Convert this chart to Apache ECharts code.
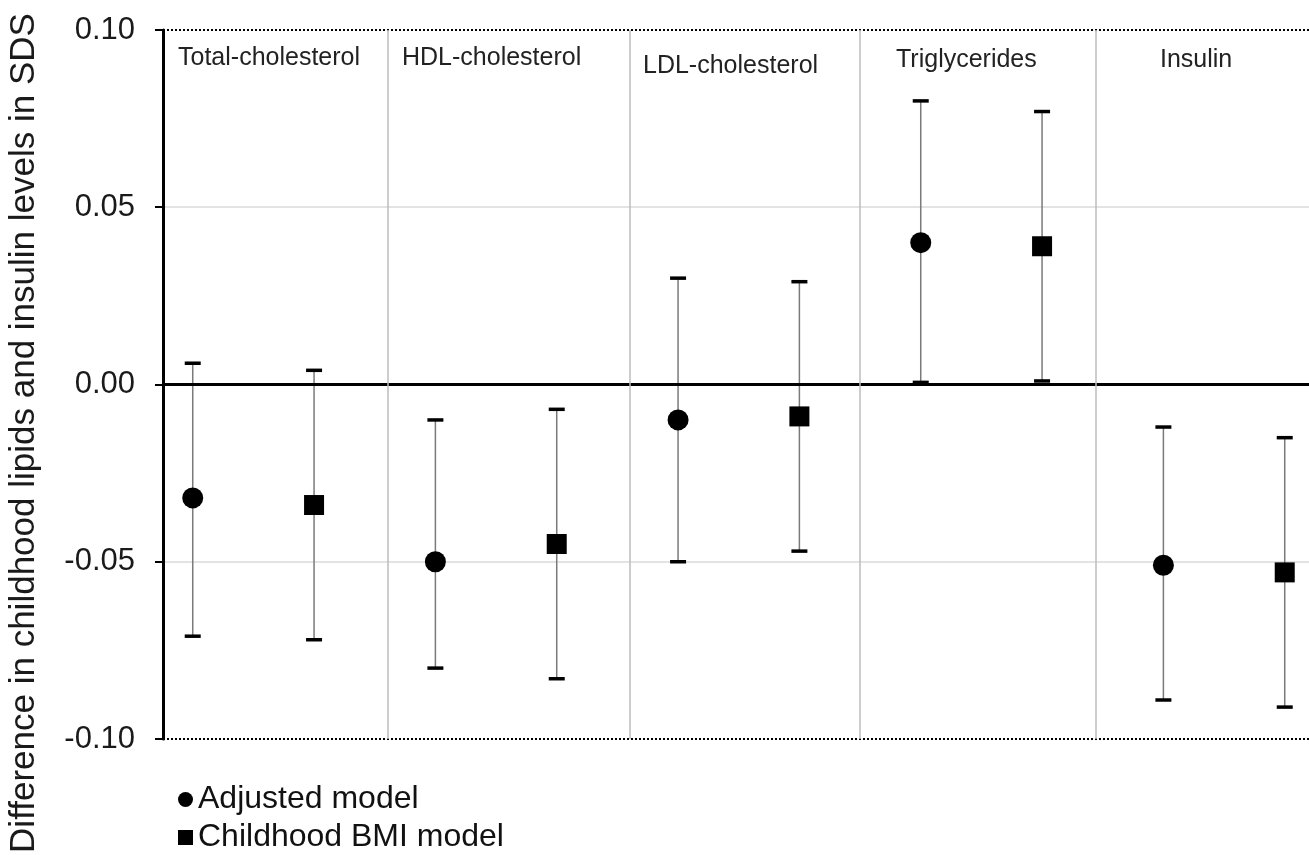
<!DOCTYPE html>
<html>
<head>
<meta charset="utf-8">
<script src="https://cdn.jsdelivr.net/npm/echarts@6/dist/echarts.min.js"></script>
<style>
html, body { margin: 0; padding: 0; background: #fff; }
#chart { width: 1309px; height: 855px; }
</style>
</head>
<body>
<div id="chart"></div>
<script>
var categories = ['Total-cholesterol', 'HDL-cholesterol', 'LDL-cholesterol', 'Triglycerides', 'Insulin'];
// x slot of each model within the panels
var adjustedX = [1, 3, 5, 7, 9];
var bmiX = [2, 4, 6, 8, 10];
// adjusted model: estimate and 95% CI
var adjusted = [-0.032, -0.050, -0.010, 0.040, -0.051];
var adjustedLow = [-0.071, -0.080, -0.050, 0.0006, -0.089];
var adjustedHigh = [0.006, -0.010, 0.030, 0.080, -0.012];
// childhood BMI model: estimate and 95% CI
var bmi = [-0.034, -0.045, -0.009, 0.039, -0.053];
var bmiLow = [-0.072, -0.083, -0.047, 0.001, -0.091];
var bmiHigh = [0.004, -0.007, 0.029, 0.077, -0.015];
// panel separators on the x scale
var dividers = [2.61, 4.6, 6.5, 8.44];

var FONT = '"Liberation Sans", Arial, sans-serif';

var chart = echarts.init(document.getElementById('chart'));

function errorBars(name, xs, lows, highs) {
    return {
        type: 'custom',
        name: name,
        silent: true,
        z: 3,
        data: xs.map(function (x, i) { return [x, lows[i], highs[i]]; }),
        encode: { x: 0, y: [1, 2] },
        renderItem: function (params, api) {
            var x = api.value(0);
            var lo = api.coord([x, api.value(1)]);
            var hi = api.coord([x, api.value(2)]);
            var half = 8;
            return {
                type: 'group',
                children: [
                    { type: 'line', shape: { x1: hi[0], y1: hi[1], x2: lo[0], y2: lo[1] },
                      style: { stroke: '#7a7a7a', lineWidth: 1.5 } },
                    { type: 'line', shape: { x1: hi[0] - half, y1: hi[1], x2: hi[0] + half, y2: hi[1] },
                      style: { stroke: '#000', lineWidth: 3.5 } },
                    { type: 'line', shape: { x1: lo[0] - half, y1: lo[1], x2: lo[0] + half, y2: lo[1] },
                      style: { stroke: '#000', lineWidth: 3.5 } }
                ]
            };
        }
    };
}

var guideLines = [
    { yAxis: 0.1, lineStyle: { color: '#000', width: 2, type: [2, 2] } },
    { yAxis: -0.1, lineStyle: { color: '#000', width: 2, type: [2, 2] } },
    { yAxis: 0, lineStyle: { color: '#000', width: 3, type: 'solid' } }
].concat(dividers.map(function (d) {
    return { xAxis: d, lineStyle: { color: '#bdbdbd', width: 1.5, type: 'solid' } };
}));

var headerPos = [[178, 58], [402, 58], [643, 66], [896, 60], [1160, 60]];
var headers = categories.map(function (c, i) {
    return {
        type: 'text',
        x: headerPos[i][0],
        y: headerPos[i][1],
        style: { text: c, fontSize: 25, fontFamily: FONT, fill: '#222',
                 textAlign: 'left', textVerticalAlign: 'middle' }
    };
});

var option = {
    animation: false,
    backgroundColor: '#fff',
    grid: { left: 163, right: 0, top: 30, bottom: 116, containLabel: false },
    xAxis: {
        type: 'value',
        min: 0.755,
        max: 10.2,
        show: false
    },
    yAxis: {
        type: 'value',
        min: -0.1,
        max: 0.1,
        interval: 0.05,
        axisLine: { show: true, onZero: false, lineStyle: { color: '#000', width: 3 } },
        axisTick: { show: true, length: 8, lineStyle: { color: '#000', width: 2 } },
        axisLabel: {
            fontSize: 31,
            fontFamily: FONT,
            color: '#1a1a1a',
            margin: 28,
            formatter: function (v) { return v.toFixed(2); }
        },
        splitLine: {
            show: true,
            lineStyle: { color: ['rgba(0,0,0,0)', '#e3e3e3', 'rgba(0,0,0,0)', '#e3e3e3', 'rgba(0,0,0,0)'], width: 2 }
        }
    },
    legend: {
        orient: 'vertical',
        left: 178,
        top: 783,
        padding: 0,
        itemGap: 5,
        itemWidth: 15,
        itemHeight: 15,
        selectedMode: false,
        textStyle: { fontSize: 32, fontFamily: FONT, color: '#111', lineHeight: 33 },
        data: [
            { name: 'Adjusted model', icon: 'circle' },
            { name: 'Childhood BMI model', icon: 'rect' }
        ]
    },
    graphic: [
        {
            type: 'text',
            x: 24,
            y: 433,
            rotation: Math.PI / 2,
            style: {
                text: 'Difference in childhood lipids and insulin levels in SDS',
                fontSize: 35, fontFamily: FONT, fill: '#1a1a1a',
                textAlign: 'center', textVerticalAlign: 'middle'
            }
        }
    ].concat(headers),
    series: [
        {
            type: 'line',
            name: 'guides',
            data: [],
            silent: true,
            z: 1,
            markLine: { silent: true, symbol: 'none', label: { show: false }, data: guideLines }
        },
        errorBars('Adjusted CI', adjustedX, adjustedLow, adjustedHigh),
        errorBars('BMI CI', bmiX, bmiLow, bmiHigh),
        {
            type: 'scatter',
            name: 'Adjusted model',
            symbol: 'circle',
            symbolSize: 21,
            z: 4,
            itemStyle: { color: '#000', opacity: 1 },
            data: adjustedX.map(function (x, i) { return [x, adjusted[i]]; })
        },
        {
            type: 'scatter',
            name: 'Childhood BMI model',
            symbol: 'rect',
            symbolSize: 20,
            z: 4,
            itemStyle: { color: '#000', opacity: 1 },
            data: bmiX.map(function (x, i) { return [x, bmi[i]]; })
        }
    ]
};

chart.setOption(option);
window.addEventListener('resize', function () {
    chart.resize();
});
</script>
</body>
</html>
